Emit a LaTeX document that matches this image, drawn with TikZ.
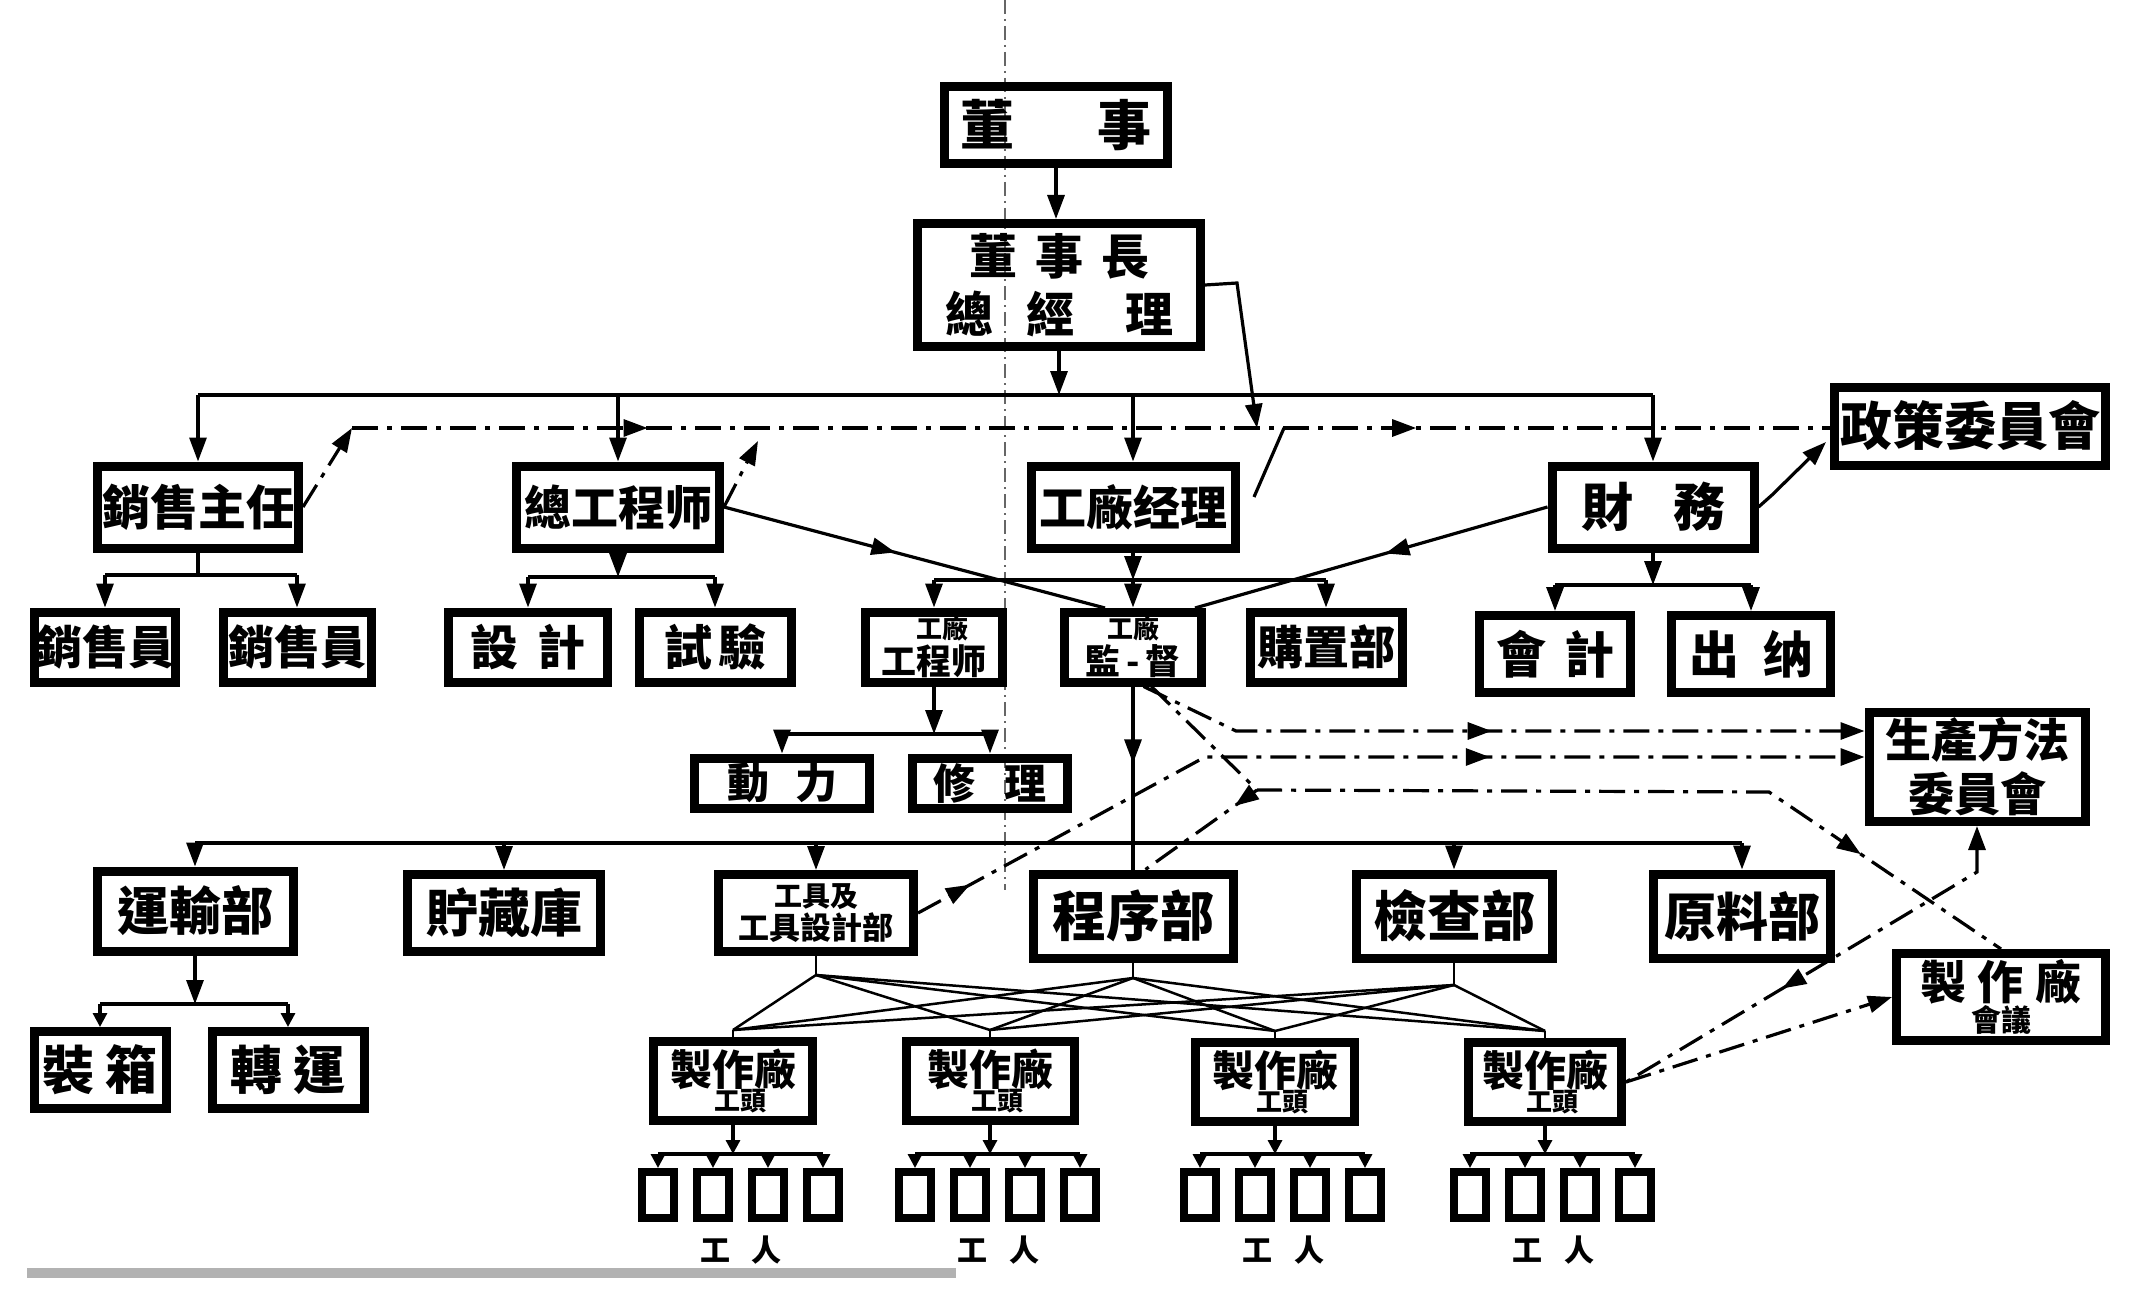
\documentclass[tikz,border=0pt]{standalone}
\usepackage{fontspec}
\setmainfont{Noto Sans CJK TC}
\usetikzlibrary{arrows.meta,decorations.markings}
\newcommand\myfs[1]{\fontsize{#1pt}{#1pt}\selectfont}
\begin{document}
\begin{tikzpicture}[x=1pt,y=-1pt,
  >={Triangle[length=24pt,width=17pt]},
  box/.style={draw,line width=9pt,inner sep=0pt,align=center},
  conn/.style={line width=3.2pt},
  fanline/.style={line width=2.5pt},
  dd/.style={line width=3.2pt,dash pattern=on 26pt off 9pt on 5pt off 9pt},
  midarr/.style={postaction={decorate,decoration={markings,mark=at position #1 with {\arrow{>}}}}},
  wbox/.style={draw,line width=8pt,minimum width=32pt,minimum height=46pt,inner sep=0pt},
  smallarr/.style={-{Triangle[length=14pt,width=14pt]}},
  fold/.style={line width=1.5pt,black!60,dash pattern=on 14pt off 5pt on 2pt off 5pt},
]
\useasboundingbox (0,0) rectangle (2142,1292);
\fill[white] (0,0) rectangle (2142,1292);

% fold line of the scan
\draw[fold] (1005,0) -- (1005,890);
% scan edge band
\fill[black!30] (27,1268) rectangle (956,1278);

% ---------- nodes ----------
\node[box,minimum width=223pt,minimum height=77pt,font=\bfseries\myfs{54}] (dongshi) at (1056,125) {董\hspace{84pt}事};
\node[box,minimum width=283pt,minimum height=123pt,font=\bfseries\myfs{48}] (dsz) at (1059,285) {董\hspace{18pt}事\hspace{18pt}長\\[10pt]總\hspace{34pt}經\hspace{50pt}理};
\node[box,minimum width=271pt,minimum height=78pt,font=\bfseries\myfs{52}] (zc) at (1970,426) {政策委員會};

\node[box,minimum width=201pt,minimum height=82pt,font=\bfseries\myfs{48}] (xszr) at (198,507) {銷售主任};
\node[box,minimum width=203pt,minimum height=82pt,font=\bfseries\myfs{47}] (zgcs) at (618,507) {總工程师};
\node[box,minimum width=204pt,minimum height=82pt,font=\bfseries\myfs{47}] (gcjl) at (1133,507) {工廠经理};
\node[box,minimum width=202pt,minimum height=82pt,font=\bfseries\myfs{52}] (cw) at (1653,507) {財\hspace{40pt}務};

\node[box,minimum width=141pt,minimum height=70pt,font=\bfseries\myfs{46}] (xsy1) at (105,647) {銷售員};
\node[box,minimum width=148pt,minimum height=70pt,font=\bfseries\myfs{46}] (xsy2) at (297,647) {銷售員};
\node[box,minimum width=159pt,minimum height=70pt,font=\bfseries\myfs{48}] (sj) at (528,647) {設\hspace{20pt}計};
\node[box,minimum width=152pt,minimum height=70pt,font=\bfseries\myfs{48}] (sy) at (715,647) {試\hspace{6pt}驗};
\node[box,minimum width=137pt,minimum height=70pt,font=\bfseries] (gcgcs) at (934,647) {\myfs{26}\hspace{16pt}工廠\\[2pt]\myfs{35}工程师};
\node[box,minimum width=137pt,minimum height=70pt,font=\bfseries] (gcjd) at (1133,647) {\myfs{26}工廠\\[2pt]\myfs{35}監\hspace{6pt}-\hspace{6pt}督};
\node[box,minimum width=152pt,minimum height=70pt,font=\bfseries\myfs{46}] (gzb) at (1326,647) {購置部};
\node[box,minimum width=151pt,minimum height=77pt,font=\bfseries\myfs{50}] (kj) at (1555,654) {會\hspace{18pt}計};
\node[box,minimum width=159pt,minimum height=77pt,font=\bfseries\myfs{50}] (cn) at (1751,654) {出\hspace{24pt}纳};

\node[box,minimum width=175pt,minimum height=50pt,font=\bfseries\myfs{42}] (dl) at (782,783) {動\hspace{26pt}力};
\node[box,minimum width=155pt,minimum height=50pt,font=\bfseries\myfs{42}] (xl) at (990,783) {修\hspace{30pt}理};

\node[box,minimum width=216pt,minimum height=109pt,font=\bfseries\myfs{46}] (scff) at (1977,767) {生產方法\\[8pt]委員會};

\node[box,minimum width=196pt,minimum height=80pt,font=\bfseries\myfs{52}] (ysb) at (195,911) {運輸部};
\node[box,minimum width=193pt,minimum height=77pt,font=\bfseries\myfs{52}] (zcg) at (504,913) {貯藏庫};
\node[box,minimum width=195pt,minimum height=77pt,font=\bfseries] (gj) at (816,913) {\myfs{28}工具及\\[2pt]\myfs{31}工具設計部};
\node[box,minimum width=200pt,minimum height=84pt,font=\bfseries\myfs{54}] (cxb) at (1133,916) {程序部};
\node[box,minimum width=196pt,minimum height=84pt,font=\bfseries\myfs{54}] (jcb) at (1454,916) {檢查部};
\node[box,minimum width=177pt,minimum height=84pt,font=\bfseries\myfs{52}] (ylb) at (1742,916) {原料部};
\node[box,minimum width=209pt,minimum height=87pt,font=\bfseries] (zzhy) at (2001,997) {\myfs{46}製\hspace{12pt}作\hspace{12pt}廠\\[0pt]\myfs{30}會議};

\node[box,minimum width=132pt,minimum height=77pt,font=\bfseries\myfs{52}] (zhx) at (100,1070) {裝\hspace{12pt}箱};
\node[box,minimum width=152pt,minimum height=77pt,font=\bfseries\myfs{52}] (zy) at (288,1070) {轉\hspace{12pt}運};

\node[box,minimum width=159pt,minimum height=79pt,font=\bfseries] (zA) at (733,1081) {\myfs{42}製作廠\\[-2pt]\myfs{26}\hspace{14pt}工頭};
\node[box,minimum width=168pt,minimum height=79pt,font=\bfseries] (zB) at (990,1081) {\myfs{42}製作廠\\[-2pt]\myfs{26}\hspace{14pt}工頭};
\node[box,minimum width=159pt,minimum height=79pt,font=\bfseries] (zC) at (1275,1082) {\myfs{42}製作廠\\[-2pt]\myfs{26}\hspace{14pt}工頭};
\node[box,minimum width=153pt,minimum height=79pt,font=\bfseries] (zD) at (1545,1082) {\myfs{42}製作廠\\[-2pt]\myfs{26}\hspace{14pt}工頭};

% ---------- coordinates ----------
\coordinate (busy) at (0,395);
\coordinate (k1) at (352,428);
\coordinate (k2) at (758,441);
\coordinate (k3a) at (1237,283);
\coordinate (k3b) at (1257,428);
\coordinate (k4a) at (1254,497);
\coordinate (k4b) at (1284,428);
\coordinate (k5m) at (1772,495);
\coordinate (k5e) at (1826,442);
\coordinate (k6e) at (1105,608);
\coordinate (k7e) at (1195,608);
\coordinate (b1y) at (0,575);
\coordinate (b2y) at (0,577);
\coordinate (b3y) at (0,580);
\coordinate (b4y) at (0,585);
\coordinate (b5y) at (0,734);
\coordinate (b6y) at (0,843);
\coordinate (b7y) at (0,1004);
\coordinate (k7) at (1236,731);
\coordinate (k8) at (1205,757);
\coordinate (k9) at (1257,790);
\coordinate (k9b) at (1769,792);
\coordinate (k11) at (1977,872);

% ---------- top ----------
\draw[conn,->] (dongshi.south) -- (dongshi.south |- dsz.north);
\draw[conn,->] (dsz.south) -- (dsz.south |- busy);
\draw[conn] (xszr.north |- busy) -- (cw.north |- busy);
\foreach \n in {xszr,zgcs,gcjl,cw}{\draw[conn,->] (\n.north |- busy) -- (\n.north);}

% dash-dot line to policy committee
\draw[dd,->] (xszr.east) -- (k1);
\draw[dd,midarr=0.2,midarr=0.72] (k1) -- (zc.west |- k1);
\draw[dd,->] (zgcs.east) -- (k2);
\draw[conn,->] (dsz.east) -- (k3a) -- (k3b);
\draw[conn] (k4a) -- (k4b);
\draw[conn,->] (cw.east) -- (k5m) -- (k5e);

% diagonals into supervisor
\draw[conn,midarr=0.45] (zgcs.east) -- (k6e);
\draw[conn,midarr=0.46] (cw.west) -- (k7e);

% sub buses row 3
\draw[conn] (xszr.south) -- (xszr.south |- b1y);
\draw[conn] (xsy1.north |- b1y) -- (xsy2.north |- b1y);
\draw[conn,->] (xsy1.north |- b1y) -- (xsy1.north);
\draw[conn,->] (xsy2.north |- b1y) -- (xsy2.north);

\draw[conn,->] (zgcs.south) -- (zgcs.south |- b2y);
\draw[conn] (sj.north |- b2y) -- (sy.north |- b2y);
\draw[conn,->] (sj.north |- b2y) -- (sj.north);
\draw[conn,->] (sy.north |- b2y) -- (sy.north);

\draw[conn,->] (gcjl.south) -- (gcjl.south |- b3y);
\draw[conn] (gcgcs.north |- b3y) -- (gzb.north |- b3y);
\draw[conn,->] (gcgcs.north |- b3y) -- (gcgcs.north);
\draw[conn,->] (gcjd.north |- b3y) -- (gcjd.north);
\draw[conn,->] (gzb.north |- b3y) -- (gzb.north);

\draw[conn,->] (cw.south) -- (cw.south |- b4y);
\draw[conn] (kj.north |- b4y) -- (cn.north |- b4y);
\draw[conn,->] (kj.north |- b4y) -- (kj.north);
\draw[conn,->] (cn.north |- b4y) -- (cn.north);

% factory engineer
\draw[conn,->] (gcgcs.south) -- (gcgcs.south |- b5y);
\draw[conn] (dl.north |- b5y) -- (xl.north |- b5y);
\draw[conn,->] (dl.north |- b5y) -- (dl.north);
\draw[conn,->] (xl.north |- b5y) -- (xl.north);

% supervisor vertical and big bus
\draw[conn,midarr=0.42] (gcjd.south) -- (cxb.north);
\draw[conn] (ysb.north |- b6y) -- (ylb.north |- b6y);
\foreach \n in {ysb,zcg,gj,jcb,ylb}{\draw[conn,->] (\n.north |- b6y) -- (\n.north);}

% transport
\draw[conn,->] (ysb.south) -- (ysb.south |- b7y);
\draw[conn] (zhx.north |- b7y) -- (zy.north |- b7y);
\draw[conn,smallarr] (zhx.north |- b7y) -- (zhx.north);
\draw[conn,smallarr] (zy.north |- b7y) -- (zy.north);

% dash-dot lines to committees
\draw[dd,->,midarr=0.49] (gcjd.-75) -- (k7) -- (scff.west |- k7);
\draw[dd,->,midarr=0.06,midarr=0.62] (gj.east) -- (k8) -- (scff.west |- k8);
\draw[dd,midarr=0.82] (gcjd.-65) -- (k9) -- (k9b) -- (zzhy.north);
\draw[dd,midarr=0.2] (k9) -- (cxb.75);
\draw[dd,<-,midarr=0.6] (scff.south) -- (k11) -- (zD.east);
\draw[dd,->] (zD.east) -- (zzhy.west);

% fan of lines to workshop foremen
\coordinate (fG) at (816,975);
\coordinate (fC) at (1133,978);
\coordinate (fJ) at (1454,985);
\coordinate (tA) at (733,1030);
\coordinate (tB) at (990,1030);
\coordinate (tC) at (1275,1031);
\coordinate (tD) at (1545,1031);
\draw[fanline] (gj.south) -- (fG);
\draw[fanline] (cxb.south) -- (fC);
\draw[fanline] (jcb.south) -- (fJ);
\foreach \s in {fG,fC,fJ}{\foreach \t in {tA,tB,tC,tD}{\draw[fanline] (\s) -- (\t);}}
\draw[fanline] (tA) -- (zA.north);
\draw[fanline] (tB) -- (zB.north);
\draw[fanline] (tC) -- (zC.north);
\draw[fanline] (tD) -- (zD.north);

% workers
\foreach \g/\cx in {A/733,B/990,C/1275,D/1545}{
  \draw[conn,smallarr] (z\g.south) -- (z\g.south |- 0,1154);
  \foreach \i/\o in {1/-75,2/-20,3/35,4/90}{
    \node[wbox] (w\g\i) at ({\cx+\o},1195) {};
    \draw[conn,smallarr] (w\g\i.north |- 0,1154) -- (w\g\i.north);
  }
  \draw[conn] (w\g1.north |- 0,1154) -- (w\g4.north |- 0,1154);
  \node[font=\bfseries\myfs{30}] (lab\g) at ({\cx+8},1250) {工\hspace{22pt}人};
}
\end{tikzpicture}
\end{document}
